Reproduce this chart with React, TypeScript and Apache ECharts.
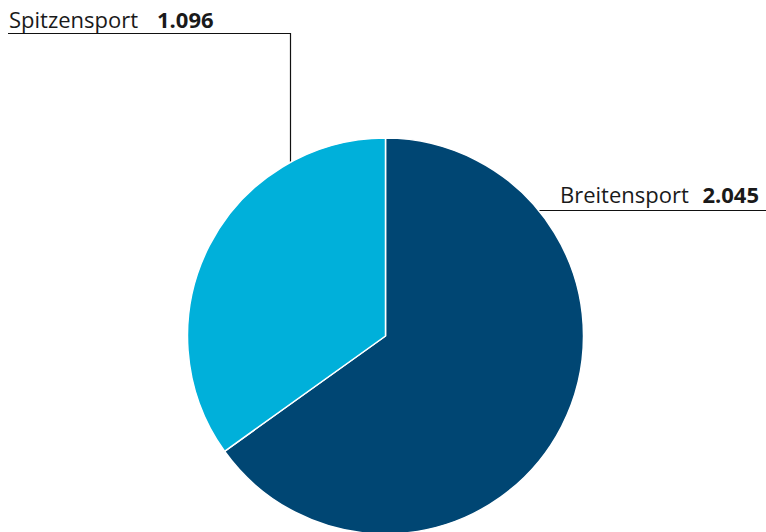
import React, { useEffect, useRef } from "react";
import * as echarts from "echarts";

const categories = ["Breitensport", "Spitzensport"];
const values = [2045, 1096];
const colors = ["#004673", "#00B0DA"];

function fmt(n: number): string {
  return String(n).replace(/\B(?=(\d{3})+(?!\d))/g, ".");
}

export default function App() {
  const ref = useRef<HTMLDivElement>(null);
  useEffect(() => {
    if (!ref.current) return;
    const chart = echarts.init(ref.current, undefined, { renderer: "svg" });
    const font = "'Open Sans', 'Noto Sans', sans-serif";
    chart.setOption({
      animation: false,
      backgroundColor: "#ffffff",
      series: [
        {
          type: "pie",
          center: [385.5, 336],
          radius: 198,
          startAngle: 90,
          clockwise: true,
          label: { show: false },
          labelLine: { show: false },
          emphasis: { disabled: true },
          itemStyle: { borderColor: "#ffffff", borderWidth: 1.5 },
          data: categories.map((c, i) => ({
            name: c,
            value: values[i],
            itemStyle: { color: colors[i] },
          })),
        },
      ],
      graphic: [
        {
          type: "polyline",
          shape: { points: [[8, 33.5], [290.5, 33.5], [290.5, 190]] },
          style: { stroke: "#111", lineWidth: 1.2, fill: null },
        },
        {
          type: "line",
          shape: { x1: 539, y1: 210.5, x2: 766, y2: 210.5 },
          style: { stroke: "#111", lineWidth: 1.2 },
        },
        {
          type: "text",
          x: 9,
          y: 19,
          style: {
            text: categories[1],
            font: `22px ${font}`,
            fill: "#1a1a1a",
            textAlign: "left",
            textVerticalAlign: "middle",
          },
        },
        {
          type: "text",
          x: 157,
          y: 19,
          style: {
            text: fmt(values[1]),
            font: `bold 22px ${font}`,
            fill: "#1a1a1a",
            textAlign: "left",
            textVerticalAlign: "middle",
          },
        },
        {
          type: "text",
          x: 560,
          y: 194,
          style: {
            text: categories[0],
            font: `22px ${font}`,
            fill: "#1a1a1a",
            textAlign: "left",
            textVerticalAlign: "middle",
          },
        },
        {
          type: "text",
          x: 759,
          y: 194,
          style: {
            text: fmt(values[0]),
            font: `bold 22px ${font}`,
            fill: "#1a1a1a",
            textAlign: "right",
            textVerticalAlign: "middle",
          },
        },
      ],
    });
    return () => chart.dispose();
  }, []);
  return (
    <div
      ref={ref}
      style={{ position: "absolute", left: 0, top: 0, width: 766, height: 532 }}
    />
  );
}
